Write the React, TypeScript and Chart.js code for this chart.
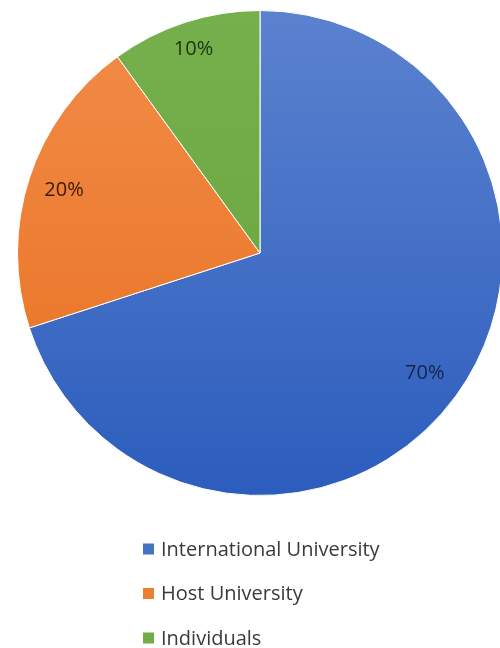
import React, { useEffect, useRef } from "react";
import { Chart, registerables } from "chart.js";

Chart.register(...registerables);

const categories = ["International University", "Host University", "Individuals"];
const values = [70, 20, 10];
const labelTexts = ["70%", "20%", "10%"];
const topColors = ["#5B82CF", "#F28C48", "#76B04C"];
const bottomColors = ["#2C5DBD", "#E86F20", "#66A33C"];
const swatchColors = ["#4472C4", "#ED7D31", "#70AD47"];
const labelColors = ["#15244a", "#3a1a06", "#1d3410"];
const labelRadius = [0.84, 0.85, 0.887];

const FONT = "'Open Sans', Lato, sans-serif";

const sliceLabels = {
  id: "sliceLabels",
  afterDatasetsDraw(chart: any) {
    const ctx = chart.ctx;
    const meta = chart.getDatasetMeta(0);
    ctx.save();
    ctx.font = `20px ${FONT}`;
    ctx.textAlign = "center";
    ctx.textBaseline = "middle";
    meta.data.forEach((arc: any, i: number) => {
      const p = arc.getProps(["x", "y", "startAngle", "endAngle", "outerRadius"], true);
      const mid = (p.startAngle + p.endAngle) / 2;
      const r = p.outerRadius * labelRadius[i];
      ctx.fillStyle = labelColors[i];
      ctx.fillText(labelTexts[i], p.x + Math.cos(mid) * r, p.y + Math.sin(mid) * r + 1);
    });
    ctx.restore();
  },
};

const customLegend = {
  id: "customLegend",
  afterDraw(chart: any) {
    const ctx = chart.ctx;
    ctx.save();
    ctx.font = `20px ${FONT}`;
    ctx.textAlign = "left";
    ctx.textBaseline = "middle";
    categories.forEach((c, i) => {
      const y = 549 + i * 44.5;
      ctx.fillStyle = swatchColors[i];
      ctx.fillRect(143, y - 5.5, 11, 11);
      ctx.fillStyle = "#3a3a3a";
      ctx.fillText(c, 161, y + 1);
    });
    ctx.restore();
  },
};

export default function App() {
  const ref = useRef<HTMLCanvasElement>(null);
  useEffect(() => {
    if (!ref.current) return;
    const chart = new Chart(ref.current, {
      type: "pie",
      data: {
        labels: categories,
        datasets: [
          {
            data: values,
            backgroundColor: (c: any) => {
              const area = c.chart.chartArea;
              if (!area) return swatchColors[c.dataIndex];
              const g = c.chart.ctx.createLinearGradient(0, area.top, 0, area.bottom);
              g.addColorStop(0, topColors[c.dataIndex]);
              g.addColorStop(1, bottomColors[c.dataIndex]);
              return g;
            },
            borderColor: "#ffffff",
            borderWidth: 1,
          },
        ],
      },
      options: {
        animation: false,
        responsive: false,
        rotation: 0,
        layout: { padding: { left: 17, right: 17, top: 10, bottom: 152 } },
        plugins: { legend: { display: false }, tooltip: { enabled: false } },
      },
      plugins: [sliceLabels, customLegend],
    });
    return () => chart.destroy();
  }, []);
  return (
    <div style={{ position: "fixed", left: 0, top: 0, width: 500, height: 648, overflow: "hidden", background: "#fff" }}>
      <canvas ref={ref} width={520} height={648} style={{ width: 520, height: 648, display: "block" }} />
    </div>
  );
}
